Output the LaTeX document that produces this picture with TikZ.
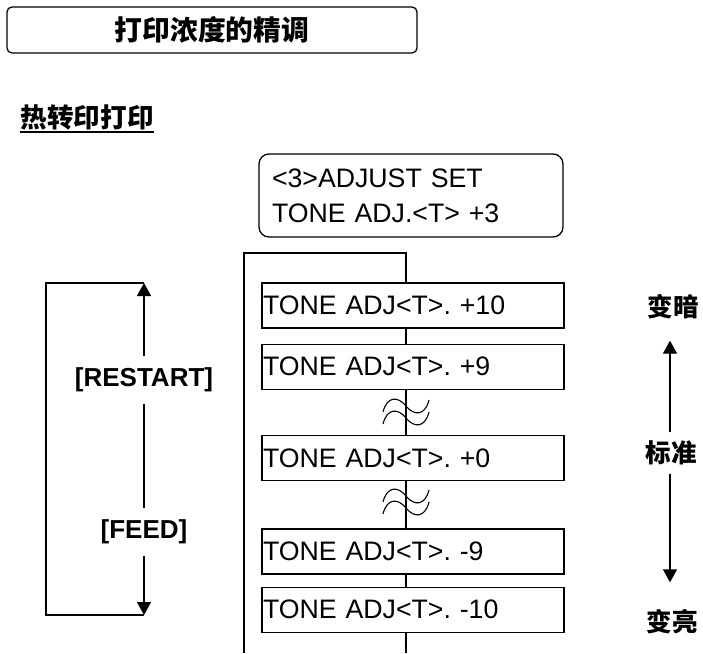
\documentclass[tikz,border=0pt]{standalone}
\usepackage{fontspec}
\setmainfont{Liberation Sans}
\newfontfamily\cjk{Noto Sans CJK SC}
\usetikzlibrary{arrows.meta,positioning}
\frenchspacing

\begin{document}
\begin{tikzpicture}[x=1pt, y=-1pt, line width=1.3pt,
  tonebox/.style={draw, fill=white, minimum width=302pt, minimum height=45pt,
    inner xsep=1pt, text width=300pt, align=left,
    font=\fontsize{26.7}{30}\selectfont},
  keylbl/.style={font=\fontsize{26}{30}\selectfont\bfseries, inner sep=0pt, minimum height=46pt},
  dirlbl/.style={font=\fontsize{25.5}{30}\selectfont\cjk\bfseries, inner sep=0pt},
  arr/.style={-{Triangle[width=14pt,length=13pt]}}]
  \useasboundingbox (0,0) rectangle (703,653);

  % headings
  \node[draw, rounded corners=5pt, minimum width=410pt, minimum height=46pt,
    font=\fontsize{27.8}{30}\selectfont\cjk\bfseries] (title) at (212,30) {打印浓度的精调};
  \node[anchor=base west, inner sep=0pt, font=\fontsize{26.6}{30}\selectfont\cjk\bfseries] (sub) at (20,127) {热转印打印};
  \draw[line width=1.5pt] ([yshift=-5pt]sub.base west) -- ([yshift=-5pt]sub.base east);

  % menu
  \node[draw, rounded corners=10pt, minimum width=304pt, minimum height=83pt,
    inner xsep=13pt, text width=278pt, align=left,
    font=\fontsize{26.7}{35}\selectfont] (adj) at (411,195.5) {<3>ADJUST SET\\TONE ADJ.<T> +3};

  \node[tonebox] (t10) at (413,305.5) {TONE ADJ<T>. +10};
  \node[tonebox, below=15pt of t10] (t9) {TONE ADJ<T>. +9};
  \node[tonebox, below=45pt of t9] (t0) {TONE ADJ<T>. +0};
  \node[tonebox, below=47pt of t0] (tm9) {TONE ADJ<T>. -9};
  \node[tonebox, below=12pt of tm9] (tm10) {TONE ADJ<T>. -10};

  \coordinate (ltop) at (244,253);
  \coordinate (lbot) at (244,653);
  \coordinate (ctop) at (406,253);
  \coordinate (cbot) at (406,653);
  \draw (lbot) -- (ltop) -- (ctop) -- (ctop |- t10.north);
  \foreach \a/\b in {t10/t9, t9/t0, t0/tm9, tm9/tm10}
    \draw (ctop |- \a.south) -- (ctop |- \b.north);
  \draw (ctop |- tm10.south) -- (cbot);

  % breaks
  \foreach \wy in {412,502}
    \foreach \dy in {-6,6}
      \draw[line width=1.1pt, shift={(406,\wy+\dy)}]
        (-23,6) .. controls (-19,-10) and (-8,-10) .. (0,0)
        .. controls (8,10) and (19,10) .. (23,-6);

  % keys
  \coordinate (looptl) at (46,283);
  \coordinate (looptr) at (144,283);
  \coordinate (loopbl) at (46,615);
  \coordinate (loopbr) at (144,615);
  \node[keylbl] (restart) at (144,380) {[RESTART]};
  \node[keylbl] (feed) at (144,532) {[FEED]};
  \draw[arr] (restart) -- (looptr);
  \draw (restart) -- (feed);
  \draw[arr] (feed) -- (loopbr);
  \draw (looptr) -- (looptl) -- (loopbl) -- (loopbr);

  % density
  \node[dirlbl, minimum height=66pt] (dark) at (673,307) {变暗};
  \node[dirlbl, minimum height=40pt] (std) at (671,453) {标准};
  \node[dirlbl, minimum height=78pt] (light) at (672,622) {变亮};
  \draw[arr] (std.north -| 670,0) -- (dark.south -| 670,0);
  \draw[arr] (std.south -| 670,0) -- (light.north -| 670,0);
\end{tikzpicture}
\end{document}
